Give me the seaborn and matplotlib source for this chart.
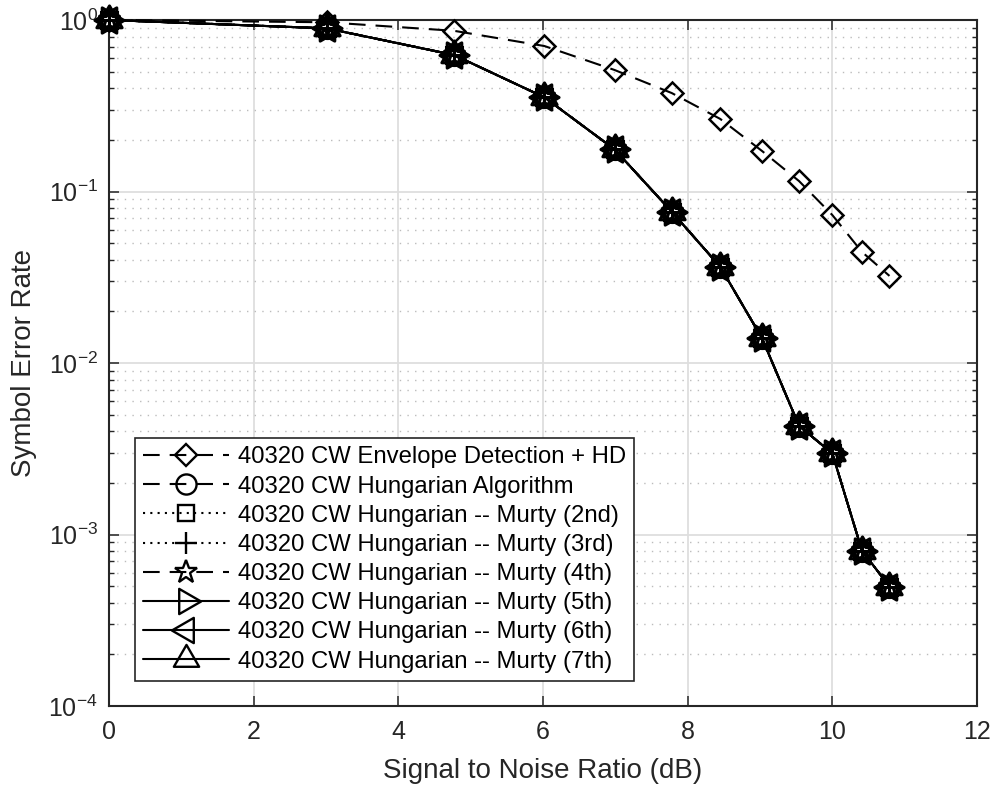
import matplotlib
matplotlib.use("Agg")
import matplotlib.pyplot as plt
from matplotlib.path import Path
import seaborn as sns
import pandas as pd

# ---------------- data ----------------
snr_db = [0.0, 3.01, 4.77, 6.02, 6.99, 7.78, 8.45, 9.03, 9.54, 10.0, 10.41, 10.79]

ser_envelope = [1.0, 0.97, 0.865, 0.705, 0.511, 0.375, 0.265, 0.172, 0.115, 0.0729, 0.0444, 0.0322]
ser_hungarian = [1.0, 0.894, 0.625, 0.354, 0.176, 0.0762, 0.0364, 0.0139, 0.0043, 0.00297, 0.000805, 0.000497]
ser_murty_2 = [1.0, 0.894, 0.625, 0.354, 0.176, 0.0762, 0.0364, 0.0139, 0.0043, 0.00297, 0.000805, 0.000497]
ser_murty_3 = [1.0, 0.894, 0.625, 0.354, 0.176, 0.0762, 0.0364, 0.0139, 0.0043, 0.00297, 0.000805, 0.000497]
ser_murty_4 = [1.0, 0.894, 0.625, 0.354, 0.176, 0.0762, 0.0364, 0.0139, 0.0043, 0.00297, 0.000805, 0.000497]
ser_murty_5 = [1.0, 0.894, 0.625, 0.354, 0.176, 0.0762, 0.0364, 0.0139, 0.0043, 0.00297, 0.000805, 0.000497]
ser_murty_6 = [1.0, 0.894, 0.625, 0.354, 0.176, 0.0762, 0.0364, 0.0139, 0.0043, 0.00297, 0.000805, 0.000497]
ser_murty_7 = [1.0, 0.894, 0.625, 0.354, 0.176, 0.0762, 0.0364, 0.0139, 0.0043, 0.00297, 0.000805, 0.000497]

labels = [
    "40320 CW Envelope Detection + HD",
    "40320 CW Hungarian Algorithm",
    "40320 CW Hungarian -- Murty (2nd)",
    "40320 CW Hungarian -- Murty (3rd)",
    "40320 CW Hungarian -- Murty (4th)",
    "40320 CW Hungarian -- Murty (5th)",
    "40320 CW Hungarian -- Murty (6th)",
    "40320 CW Hungarian -- Murty (7th)",
]
series = [ser_envelope, ser_hungarian, ser_murty_2, ser_murty_3,
          ser_murty_4, ser_murty_5, ser_murty_6, ser_murty_7]

xticks = [0, 2, 4, 6, 8, 10, 12]

# ---------------- styles ----------------
# equilateral triangles inscribed in a circle (MATLAB-like marker shapes)
TRI_RIGHT = Path([(1, 0), (-0.5, 0.866), (-0.5, -0.866), (1, 0)], closed=True)
TRI_LEFT = Path([(-1, 0), (0.5, 0.866), (0.5, -0.866), (-1, 0)], closed=True)
TRI_UP = Path([(0, 1), (-0.866, -0.5), (0.866, -0.5), (0, 1)], closed=True)

DASH = (0, (8, 4.8))
DOT = (0, (1, 2.5))
styles = [
    dict(marker="D", markersize=11.5, linestyle=DASH, mew=1.8),
    dict(marker="o", markersize=14.5, linestyle=DASH, mew=2.2),
    dict(marker="s", markersize=11.5, linestyle=DOT, mew=2.2),
    dict(marker="+", markersize=16, linestyle=DOT, mew=2.2),
    dict(marker="*", markersize=17, linestyle=DASH, mew=2.2),
    dict(marker=TRI_RIGHT, markersize=21, linestyle="-", mew=2.2),
    dict(marker=TRI_LEFT, markersize=21, linestyle="-", mew=2.2),
    dict(marker=TRI_UP, markersize=21, linestyle="-", mew=2.2),
]

sns.set_style("ticks")
plt.rcParams["font.family"] = ["Liberation Sans", "DejaVu Sans"]
plt.rcParams["mathtext.fontset"] = "custom"
plt.rcParams["mathtext.rm"] = "Liberation Sans"
plt.rcParams["mathtext.it"] = "Liberation Sans:italic"
plt.rcParams["mathtext.bf"] = "Liberation Sans:bold"

TXT = "#262626"

fig = plt.figure(figsize=(9.93, 7.89), dpi=100)
ax = fig.add_axes([109 / 993, 1 - 706 / 789, (977 - 109) / 993, (706 - 20) / 789])

for vals, lab, st in zip(series, labels, styles):
    df = pd.DataFrame({"snr": snr_db, "ser": vals})
    sns.lineplot(data=df, x="snr", y="ser", ax=ax, color="black", label=lab,
                 marker=st["marker"], markersize=st["markersize"],
                 linestyle=st["linestyle"], linewidth=1.5,
                 markerfacecolor="none", markeredgecolor="black",
                 markeredgewidth=st["mew"], errorbar=None, clip_on=False, zorder=3)

ax.set_yscale("log")
ax.set_xlim(0, 12)
ax.set_ylim(1e-4, 1)
ax.set_xticks(xticks)
ax.set_xticklabels([str(t) for t in xticks])

ax.set_axisbelow(True)
ax.grid(which="major", color="#dedede", linewidth=1.3, linestyle="-")
ax.grid(which="minor", axis="y", color="#bcbcbc", linewidth=1.0, linestyle=(0, (1, 4.5)))
ax.grid(which="minor", axis="x", visible=False)

ax.tick_params(which="both", direction="in", top=True, right=True,
               colors=TXT, labelcolor=TXT)
ax.tick_params(which="major", length=7, width=1.1, labelsize=18, pad=10)
ax.tick_params(which="minor", length=3.5, width=1.0)
ax.tick_params(axis="x", which="minor", bottom=False, top=False)
ax.tick_params(axis="y", which="major", pad=8)
for sp in ax.spines.values():
    sp.set_color(TXT)
    sp.set_linewidth(1.5)

ax.set_xlabel("Signal to Noise Ratio (dB)", fontsize=20, color=TXT, labelpad=10)
ax.set_ylabel("Symbol Error Rate", fontsize=20, color=TXT, labelpad=8)

leg = ax.legend(loc="lower left", bbox_to_anchor=(135 / 993, 1 - 681 / 789),
                bbox_transform=fig.transFigure, borderaxespad=0,
                fontsize=17.2, frameon=True, fancybox=False, framealpha=1,
                edgecolor=TXT, borderpad=0.35, labelspacing=0.3,
                handlelength=3.6, handletextpad=0.35, numpoints=1)
leg.get_frame().set_linewidth(1.2)
for t in leg.get_texts():
    t.set_color("black")
for h in leg.legend_handles:
    h.set_markeredgewidth(1.7)

fig.savefig("out.png", dpi=100)
